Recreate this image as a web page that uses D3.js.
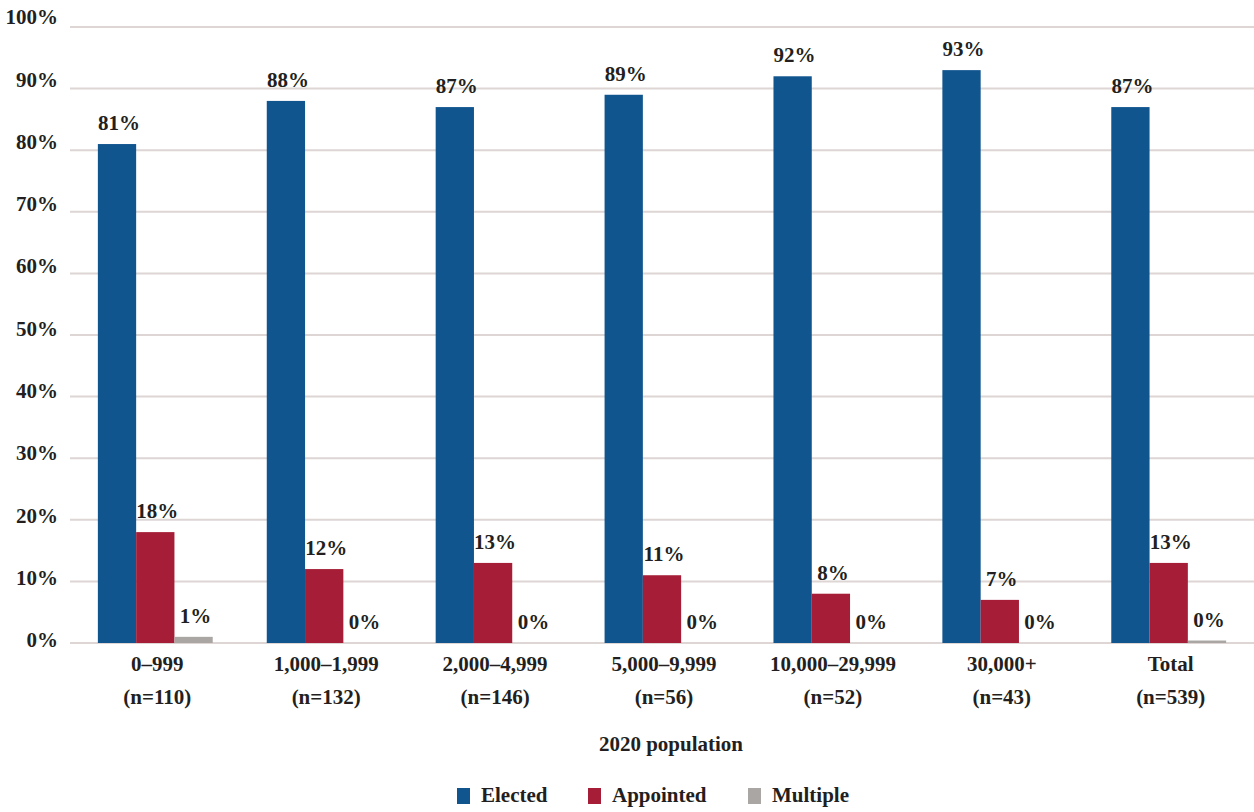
<!DOCTYPE html>
<html>
<head>
<meta charset="utf-8">
<script src="https://cdn.jsdelivr.net/npm/d3@7"></script>
<style>
  html, body { margin: 0; padding: 0; background: #ffffff; }
  svg { display: block; }
  text { font-family: "Liberation Serif", "DejaVu Serif", serif; font-weight: bold; fill: #231f20; }
</style>
</head>
<body>
<svg id="chart" width="1254" height="812"></svg>
<script>
// Population size bands and sample sizes
const categories = ["0\u2013999", "1,000\u20131,999", "2,000\u20134,999", "5,000\u20139,999", "10,000\u201329,999", "30,000+", "Total"];
const sampleSizes = ["(n=110)", "(n=132)", "(n=146)", "(n=56)", "(n=52)", "(n=43)", "(n=539)"];

// Share of respondents by selection method (percent)
const seriesNames = ["Elected", "Appointed", "Multiple"];
const elected   = [81, 88, 87, 89, 92, 93, 87];
const appointed = [18, 12, 13, 11, 8, 7, 13];
const multiple  = [1, 0, 0, 0, 0, 0, 0.4];

const yTicks = [0, 10, 20, 30, 40, 50, 60, 70, 80, 90, 100];
const axisTitle = "2020 population";

const colors = { Elected: "#11558f", Appointed: "#a51d36", Multiple: "#aaa6a4" };

const seriesValues = { Elected: elected, Appointed: appointed, Multiple: multiple };
const rows = categories.map((c, i) => ({
  category: c,
  n: sampleSizes[i],
  values: seriesNames.map(s => ({ series: s, value: seriesValues[s][i] }))
}));

const svg = d3.select("#chart");
const plotLeft = 70, plotRight = 1254, plotTop = 27, plotBottom = 643;
const FS = 21;

const x = d3.scaleBand().domain(categories).range([plotLeft, plotRight])
  .paddingInner(0.32).paddingOuter(0.165);
const xs = d3.scaleBand().domain(seriesNames).range([0, x.bandwidth()]).padding(0);
const y = d3.scaleLinear().domain([0, 100]).range([plotBottom, plotTop]);
// Tick labels sit slightly above their gridlines, a little more so toward the top
const yLabel = d3.scaleLinear().domain([0, 100]).range([plotBottom - 3, plotTop - 10]);

// Horizontal gridlines
svg.append("g").selectAll("line").data(yTicks).join("line")
  .attr("x1", plotLeft).attr("x2", plotRight)
  .attr("y1", d => y(d)).attr("y2", d => y(d))
  .attr("stroke", "#ddd6d4").attr("stroke-width", 2);

// Y axis labels
const yAxis = d3.axisLeft(yLabel).tickValues(yTicks).tickFormat(d => d + "%").tickSize(0).tickPadding(0);
const yg = svg.append("g").attr("transform", "translate(58,0)").call(yAxis);
yg.select(".domain").remove();
yg.selectAll("text").attr("font-size", FS).attr("dy", "0.32em")
  .style("font-family", "Liberation Serif, serif").style("font-weight", "bold").attr("fill", "#231f20");

// Bars
const groups = svg.append("g").selectAll("g").data(rows).join("g")
  .attr("transform", d => `translate(${x(d.category)},0)`);

groups.selectAll("rect").data(d => d.values).join("rect")
  .attr("x", d => xs(d.series))
  .attr("width", xs.bandwidth())
  .attr("y", d => y(d.value))
  .attr("height", d => y(0) - y(d.value))
  .attr("fill", d => colors[d.series]);

// Value labels
groups.selectAll("text.val").data(d => d.values).join("text")
  .attr("class", "val")
  .attr("x", d => xs(d.series) + xs.bandwidth() / 2 + 2)
  .attr("y", d => y(d.value) - 14)
  .attr("text-anchor", "middle")
  .attr("font-size", FS)
  .text(d => Math.round(d.value) + "%");

// Category labels
const xg = svg.append("g");
xg.selectAll("text.cat").data(rows).join("text")
  .attr("class", "cat")
  .attr("x", d => x(d.category) + x.bandwidth() / 2 + 2)
  .attr("y", 671)
  .attr("text-anchor", "middle").attr("font-size", FS)
  .text(d => d.category);
xg.selectAll("text.n").data(rows).join("text")
  .attr("class", "n")
  .attr("x", d => x(d.category) + x.bandwidth() / 2 + 2)
  .attr("y", 704)
  .attr("text-anchor", "middle").attr("font-size", FS)
  .text(d => d.n);

// Axis title
svg.append("text").attr("x", 671).attr("y", 751).attr("text-anchor", "middle")
  .attr("font-size", FS).text(axisTitle);

// Legend
const legendPos = [457, 588, 748];
const legend = svg.append("g").selectAll("g").data(seriesNames).join("g")
  .attr("transform", (d, i) => `translate(${legendPos[i]},788)`);
legend.append("rect").attr("width", 13).attr("height", 16).attr("fill", d => colors[d]);
legend.append("text").attr("x", 24).attr("y", 14).attr("font-size", FS).text(d => d);
</script>
</body>
</html>
